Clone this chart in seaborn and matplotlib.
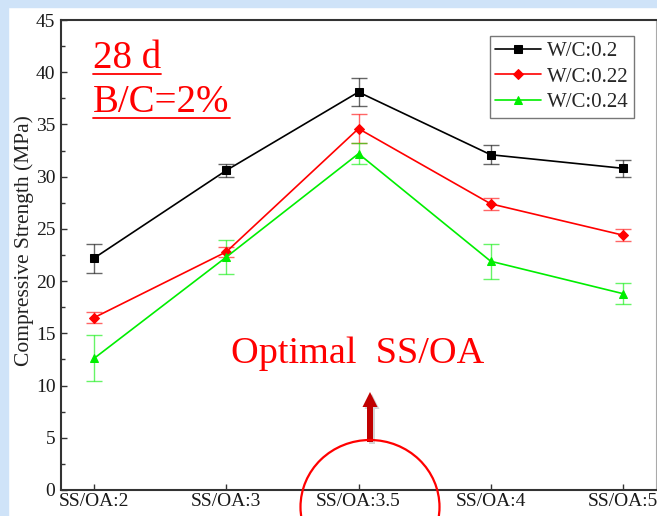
import numpy as np
import pandas as pd
import matplotlib
matplotlib.use("Agg")
import matplotlib.pyplot as plt
import seaborn as sns
from matplotlib import patches, transforms
from matplotlib.lines import Line2D
from matplotlib.ticker import MultipleLocator

# ---- data ----
categories = ["SS/OA:2", "SS/OA:3", "SS/OA:3.5", "SS/OA:4", "SS/OA:5"]
series_names = ["W/C:0.2", "W/C:0.22", "W/C:0.24"]
wc02 = [22.2, 30.6, 38.1, 32.1, 30.8]
wc02_err = [1.4, 0.6, 1.3, 0.9, 0.8]
wc022 = [16.5, 22.8, 34.6, 27.4, 24.4]
wc022_err = [0.55, 0.5, 1.4, 0.6, 0.6]
wc024 = [12.6, 22.3, 32.2, 21.9, 18.8]
wc024_err = [2.2, 1.6, 1.0, 1.7, 1.0]
y_label = "Compressive Strength (MPa)"
note1 = "28 d"
note2 = "B/C=2%"
note3 = "Optimal  SS/OA"

values = [wc02, wc022, wc024]
errors = [wc02_err, wc022_err, wc024_err]
colors = ["#000000", "#ff0000", "#00ee00"]
markers = ["s", "D", "^"]
msizes = [5.5, 5, 6]

sns.set_style("ticks")
plt.rcParams["font.family"] = ["Liberation Serif", "DejaVu Serif"]

W, H = 657, 516
fig = plt.figure(figsize=(W / 100, H / 100), dpi=100, facecolor="white")
px = transforms.IdentityTransform()

# light-blue page bands
fig.patches.append(patches.Rectangle((0, H - 7), W, 7, transform=px, color="#cfe3f8", zorder=0))
fig.patches.append(patches.Rectangle((0, 0), 8, H, transform=px, color="#cfe3f8", zorder=0))

ax = fig.add_axes([61 / W, (H - 490) / H, (656 - 61) / W, (490 - 20) / H])
ax.set_facecolor("white")

df = pd.DataFrame({
    "cat": categories * 3,
    "val": wc02 + wc022 + wc024,
    "series": sum([[s] * len(categories) for s in series_names], []),
})

for i, name in enumerate(series_names):
    sub = df[df["series"] == name]
    sns.lineplot(data=sub, x="cat", y="val", ax=ax, color=colors[i], marker=markers[i],
                 markersize=msizes[i], markeredgecolor=colors[i], linewidth=1.2,
                 label=name, sort=False, zorder=3)
    ax.errorbar(np.arange(len(categories)), values[i], yerr=errors[i], fmt="none",
                ecolor=colors[i], elinewidth=1.0, capsize=6, capthick=1.0, alpha=0.6, zorder=2)

ax.set_xlim(-0.25, 4.25)
ax.set_ylim(0, 45)
ax.yaxis.set_major_locator(MultipleLocator(5))
ax.yaxis.set_minor_locator(MultipleLocator(2.5))
ax.set_xlabel("")
ax.set_ylabel(y_label, fontsize=15.5, color="#222222")
ax.yaxis.set_label_coords(-0.045, 0.53)
ax.tick_params(axis="both", which="both", direction="in", labelsize=14, colors="#333333",
               labelcolor="#1a1a1a")
ax.tick_params(which="major", length=4, width=1)
ax.tick_params(which="minor", length=3, width=1)
ax.tick_params(axis="x", pad=2)
ax.tick_params(axis="y", pad=4)
for s in ["left", "bottom", "top"]:
    ax.spines[s].set_color("#333333")
    ax.spines[s].set_linewidth(1.5)
ax.spines["right"].set_color("#aaaaaa")
ax.spines["right"].set_linewidth(0.8)

leg = ax.legend(loc="upper right", bbox_to_anchor=(634 / W, 1 - 36 / H),
                bbox_transform=fig.transFigure, fontsize=15, frameon=True, fancybox=False,
                framealpha=1, edgecolor="#777777", handlelength=2.2, borderpad=0.25,
                labelspacing=0.3, handletextpad=0.3, borderaxespad=0)
leg.get_frame().set_linewidth(1.0)

# annotations
t1 = fig.text(93 / W, 1 - 68 / H, note1, fontsize=28, color="#ff0000", va="baseline", ha="left")
t2 = fig.text(93 / W, 1 - 112 / H, note2, fontsize=28, color="#ff0000", va="baseline", ha="left")
fig.text(358 / W, 1 - 363 / H, note3, fontsize=27.5, color="#ff0000", va="baseline", ha="center")

fig.canvas.draw()
r = fig.canvas.get_renderer()
for t, uy in [(t1, 74), (t2, 118)]:
    bb = t.get_window_extent(r)
    fig.add_artist(Line2D([bb.x0, bb.x1], [H - uy, H - uy], transform=px, color="#ff0000", lw=1.3))

# arrow with shadow
fig.add_artist(patches.FancyArrow(372, H - 444, 0, 50, width=6, head_width=15, head_length=15,
                                  length_includes_head=True, transform=px, color="#888888",
                                  alpha=0.35, lw=0))
fig.add_artist(patches.FancyArrow(370, H - 442, 0, 50, width=6, head_width=15, head_length=15,
                                  length_includes_head=True, transform=px, color="#c00000", lw=0))
# ellipse
fig.add_artist(patches.Ellipse((370, H - 507), 139, 134, transform=px, fill=False,
                               edgecolor="#ff0000", lw=1.6, clip_on=False))

fig.savefig("out.png", dpi=100, facecolor="white")
